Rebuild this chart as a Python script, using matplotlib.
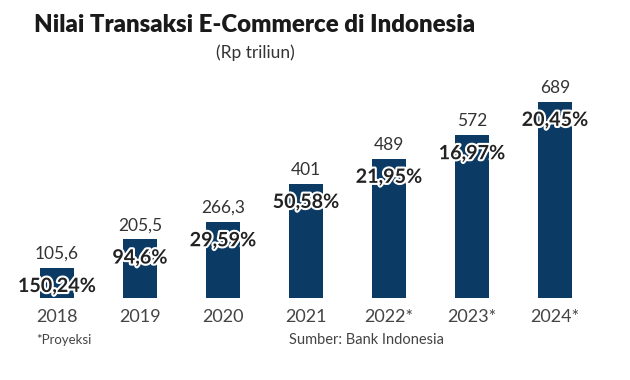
import numpy as np
import matplotlib
matplotlib.use('Agg')
import matplotlib.pyplot as plt
import matplotlib.patheffects as pe

years = ['2018', '2019', '2020', '2021', '2022*', '2023*', '2024*']
values = [105.6, 205.5, 266.3, 401, 489, 572, 689]
value_labels = ['105,6', '205,5', '266,3', '401', '489', '572', '689']
growth_labels = ['150,24%', '94,6%', '29,59%', '50,58%', '21,95%', '16,97%', '20,45%']

BAR_COLOR = '#0b3a64'
FONT = ['Lato', 'DejaVu Sans']

plt.rcParams['font.family'] = FONT

fig = plt.figure(figsize=(6.3, 3.8), dpi=100)
ax = fig.add_axes([15.5 / 630, 82 / 380, 581 / 630, 238 / 380])

x = np.arange(len(years))
bars = ax.bar(x, values, width=0.4, color=BAR_COLOR)

for xi, v, vl, gl in zip(x, values, value_labels, growth_labels):
    ax.annotate(vl, (xi, v), xytext=(0, 4.5), textcoords='offset points',
                ha='center', va='bottom', fontsize=12.5, color='#333333')
    ax.annotate(gl, (xi, v), xytext=(0, -13), textcoords='offset points',
                ha='center', va='center', fontsize=14.2, fontweight='bold',
                color='#222222',
                path_effects=[pe.withStroke(linewidth=3, foreground='white')])

ax.set_xlim(-0.5, len(years) - 0.5)
ax.set_ylim(0, 836)
ax.set_xticks(x)
ax.set_xticklabels(years, fontsize=13, color='#444444')
ax.tick_params(axis='x', length=0, pad=8)
ax.set_yticks([])
for s in ax.spines.values():
    s.set_visible(False)

fig.text(255 / 630, 1 - 25 / 380, 'Nilai Transaksi E-Commerce di Indonesia',
         ha='center', va='center', fontsize=17.3, fontweight='heavy', color='#1a1a1a')
fig.text(255 / 630, 1 - 53 / 380, '(Rp triliun)', ha='center', va='center',
         fontsize=12.5, color='#333333')
fig.text(36 / 630, 1 - 340 / 380, '*Proyeksi', ha='left', va='center',
         fontsize=9.5, color='#444444')
fig.text(289 / 630, 1 - 340 / 380, 'Sumber: Bank Indonesia', ha='left', va='center',
         fontsize=10.5, color='#444444')

fig.savefig('out.png', dpi=100, facecolor='white')
